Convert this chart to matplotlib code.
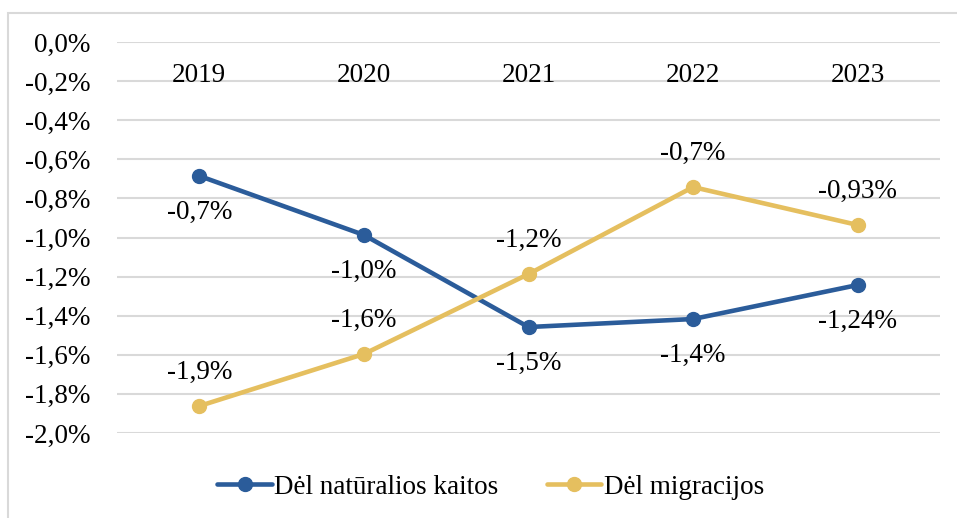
import matplotlib.pyplot as plt
from matplotlib.patches import Rectangle

plt.rcParams['font.family'] = ['Liberation Serif', 'DejaVu Serif']

years = ['2019', '2020', '2021', '2022', '2023']
natural = [-0.685, -0.987, -1.458, -1.417, -1.243]
migration = [-1.862, -1.596, -1.187, -0.742, -0.936]
natural_labels = ['-0,7%', '-1,0%', '-1,5%', '-1,4%', '-1,24%']
migration_labels = ['-1,9%', '-1,6%', '-1,2%', '-0,7%', '-0,93%']
yticks = [0.0, -0.2, -0.4, -0.6, -0.8, -1.0, -1.2, -1.4, -1.6, -1.8, -2.0]

blue = '#2B5C9A'
gold = '#E5BF5F'
fs = 19.5

fig = plt.figure(figsize=(9.57, 5.18), dpi=100)
fig.patches.append(Rectangle((8 / 957, -0.05), 1.0, 1 - 13 / 518 + 0.05,
                             transform=fig.transFigure, fill=False,
                             edgecolor='#D9D9D9', linewidth=1.5))
ax = fig.add_axes([117 / 957, 1 - 433 / 518, 823 / 957, 391 / 518])

x = list(range(len(years)))
ax.plot(x, natural, color=blue, lw=3.3, marker='o', ms=10,
        label='Dėl natūralios kaitos', solid_capstyle='round')
ax.plot(x, migration, color=gold, lw=3.3, marker='o', ms=10,
        label='Dėl migracijos', solid_capstyle='round')

for i in x:
    ax.annotate(natural_labels[i], (i, natural[i]), xytext=(0, -26),
                textcoords='offset points', ha='center', va='center', fontsize=fs)
    ax.annotate(migration_labels[i], (i, migration[i]), xytext=(0, 24),
                textcoords='offset points', ha='center', va='center', fontsize=fs)
    ax.text(i, -0.169, years[i], ha='center', va='center', fontsize=fs)

ax.set_xlim(-0.5, len(years) - 0.5)
ax.set_ylim(-2.0, 0.0)
ax.set_yticks(yticks)
ax.set_yticklabels([('%.1f%%' % v).replace('.', ',') if v != 0 else '0,0%' for v in yticks],
                   fontsize=fs)
ax.set_xticks([])
ax.tick_params(axis='y', length=0, pad=19)
ax.grid(axis='y', color='#D9D9D9', lw=1.5)
ax.set_axisbelow(True)
for s in ax.spines.values():
    s.set_visible(False)

fig.legend(loc='center', bbox_to_anchor=(0.513, 1 - 487 / 518), ncol=2, frameon=False,
           fontsize=fs, handlelength=2.0, handletextpad=0.1, columnspacing=1.8)

fig.savefig('out.png', dpi=100)
